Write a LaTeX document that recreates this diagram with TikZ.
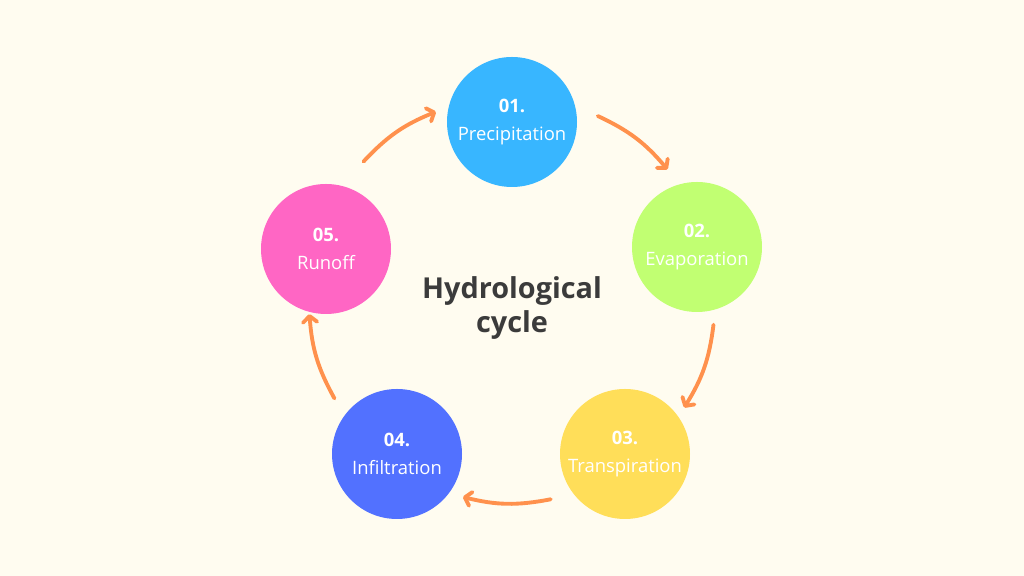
\documentclass[tikz,border=0pt]{standalone}
\usepackage{fontspec}
\setmainfont{Open Sans}
\usetikzlibrary{arrows.meta,calc}

\definecolor{paper}{HTML}{FFFCF0}
\definecolor{precip}{HTML}{38B6FF}
\definecolor{evap}{HTML}{C1FF72}
\definecolor{transp}{HTML}{FFDE59}
\definecolor{infil}{HTML}{5271FF}
\definecolor{runoff}{HTML}{FF66C4}
\definecolor{arrowc}{HTML}{FF914D}
\definecolor{titlec}{HTML}{3B3B3B}

\begin{document}
\begin{tikzpicture}[%
      stage/.style={circle, minimum size=2.6cm, inner sep=0pt, text=white,
        align=center, font=\fontsize{10.5}{16}\selectfont},
      cyc/.style={color=arrowc, line width=2.2pt, line cap=round,
        -{Straight Barb[length=3.5pt,width=8pt,round]}},
      ]
      \fill [paper] (0,0) rectangle (20.48,11.52);
      \useasboundingbox (0,0) rectangle (20.48,11.52);

      \node [stage, fill=precip] (prec) at (10.24,9.08) {\textbf{01.}\\Precipitation};
      \node [stage, fill=evap]   (evap) at (13.94,6.58) {\textbf{02.}\\Evaporation};
      \node [stage, fill=transp] (tran) at (12.50,2.44) {\textbf{03.}\\Transpiration};
      \node [stage, fill=infil]  (infl) at (7.94,2.44)  {\textbf{04.}\\Infiltration};
      \node [stage, fill=runoff] (runf) at (6.52,6.54)  {\textbf{05.}\\Runoff};

      \node [align=center, text=titlec, font=\fontsize{16.4}{19.8}\selectfont\bfseries]
        (title) at (10.24,5.36) {Hydrological\\cycle};

      % arrow ends on a ring round the middle
      \coordinate (mid) at (10.24,5.52);
      \foreach \i in {1,...,5} {
        \coordinate (s\i) at ($(mid)+({65-72*(\i-1)}:4.06)$);
        \coordinate (e\i) at ($(mid)+({40-72*(\i-1)}:4.06)$);
      }
      \draw [cyc] (s1) to[bend left=12.5] (e1);
      \draw [cyc] (s2) to[bend left=12.5] (e2);
      \draw [cyc] (s3) to[bend left=12.5] (e3);
      \draw [cyc] (s4) to[bend left=12.5] (e4);
      \draw [cyc] (s5) to[bend left=12.5] (e5);
\end{tikzpicture}
\end{document}
